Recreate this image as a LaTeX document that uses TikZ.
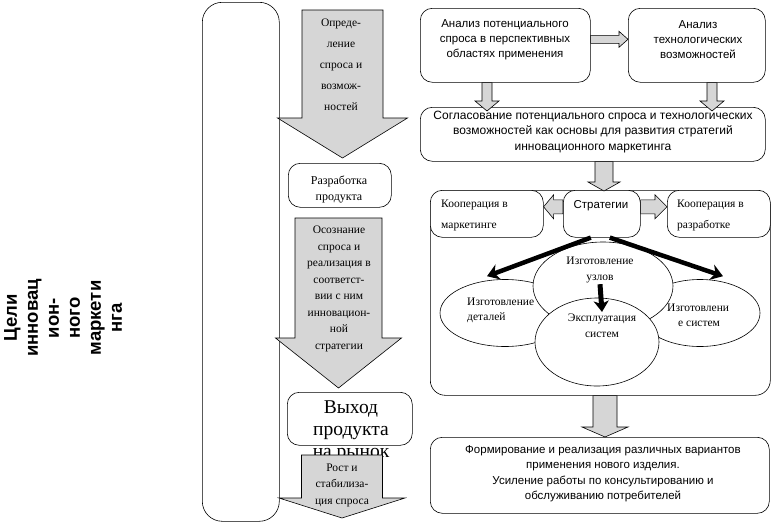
\documentclass[tikz,border=0pt]{standalone}
\usepackage{fontspec}
\setmainfont{Liberation Serif}
\newfontfamily\arialf{Liberation Sans}
\usetikzlibrary{arrows.meta,shapes.geometric,calc}
\definecolor{arrgray}{RGB}{214,214,214}
\newcommand\myfs[2]{\fontsize{#1}{#2}\selectfont}
% block arrow: [style]{start}{end}{body half}{head half}{head length}
\newcommand\blkarrow[6][blk]{%
  \path ($(#3)!#6!(#2)$) coordinate (bh);
  \draw[#1] ($(#2)!#4!90:(#3)$) -- ($(bh)!#4!90:(#3)$) -- ($(bh)!#5!90:(#3)$) -- (#3)
    -- ($(bh)!#5!-90:(#3)$) -- ($(bh)!#4!-90:(#3)$) -- ($(#2)!#4!-90:(#3)$) -- cycle;}
\begin{document}
\begin{tikzpicture}[x=1pt,y=-1pt,
  rbox/.style={draw,rounded corners=12pt,fill=white,line width=0.6pt,anchor=north west,inner sep=0pt},
  blk/.style={draw,fill=arrgray,line width=0.6pt,line join=miter},
  ell/.style={draw,ellipse,fill=white,line width=0.6pt,inner sep=0pt},
  thk/.style={line width=4.5pt,-{Stealth[length=12pt,width=16pt,inset=4pt]}},
  sans/.style={font=\arialf\myfs{11.5}{15}},
  sansb/.style={font=\arialf\myfs{12}{15.5}},
  serif/.style={font=\myfs{11.5}{16.5}},
  txt/.style={inner sep=0pt,align=center}]
\useasboundingbox (0,0) rectangle (772,523);

% left column
\node[txt,rotate=90,font=\arialf\bfseries\myfs{18.5}{21}] (goaltxt) at (63,318) {Цели\\инновац\\ион-\\ного\\маркети\\нга};
\node[rbox,rounded corners=20pt,minimum width=77,minimum height=519] (goal) at (202,2) {};

% process column
\coordinate (p1s) at (342.5,10);
\coordinate (p1e) at (342.5,158);
\blkarrow{p1s}{p1e}{40.5pt}{65pt}{40pt}
\node[txt,serif,font=\myfs{11.5}{21}] (p1t) at (341,65) {Опреде-\\ление\\спроса и\\возмож-\\ностей};

\node[rbox,minimum width=103,minimum height=44] (dev) at (288,163) {};
\node[txt,font=\myfs{12}{16}] (devt) at (339,189) {Разработка\\продукта};

\coordinate (p2s) at (338.5,218);
\coordinate (p2e) at (338.5,388);
\blkarrow{p2s}{p2e}{43.5pt}{63pt}{50pt}
\node[txt,serif] (p2t) at (339,289) {Осознание\\спроса и\\реализация в\\соответст-\\вии с ним\\инновацион-\\ной\\стратегии};

\node[rbox,minimum width=125,minimum height=53] (exit) at (287,392) {};
\node[txt,font=\myfs{19.5}{22}] (exitt) at (351,431) {Выход\\продукта\\на рынок};

\coordinate (p3s) at (342,455);
\coordinate (p3e) at (342,518);
\blkarrow{p3s}{p3e}{40.5pt}{63pt}{20pt}
\node[txt,font=\myfs{11.5}{16.5}] (p3t) at (342,485) {Рост и\\стабилиза-\\ция спроса};

% right part: top boxes
\node[rbox,minimum width=170,minimum height=74] (A) at (420,8) {};
\node[txt,sans] (At) at (505,40) {Анализ потенциального\\спроса в перспективных\\областях применения};
\node[rbox,minimum width=137,minimum height=74] (B) at (628,8) {};
\node[txt,sans] (Bt) at (698,40) {Анализ\\технологических\\возможностей};
\node[rbox,minimum width=345,minimum height=54] (C) at (420,107) {};
\node[txt,sansb] (Ct) at (593,132) {Согласование потенциального спроса и технологических\\возможностей как основы для развития стратегий\\инновационного маркетинга};

\coordinate (abs) at ($(A.east)+(0,-6)$);
\coordinate (abe) at ($(B.west)+(0,-6)$);
\blkarrow{abs}{abe}{4pt}{8pt}{9pt}
\coordinate (acs) at ($(A.south west)+(67,0)$);
\coordinate (ace) at ($(C.north west)+(67,4)$);
\blkarrow{acs}{ace}{5pt}{12pt}{10pt}
\coordinate (bcs) at ($(B.south west)+(84,0)$);
\coordinate (bce) at ($(C.north west)+(292,4)$);
\blkarrow{bcs}{bce}{5pt}{12pt}{10pt}

% container
\node[rbox,rounded corners=15pt,minimum width=340,minimum height=205] (cont) at (430,190) {};
\node[rbox,minimum width=113,minimum height=47] (mk) at (430,190) {};
\node[txt,anchor=west,align=left,font=\myfs{11.5}{21}] (mkt) at (441,215.5) {Кооперация в\\маркетинге};
\node[rbox,minimum width=103,minimum height=47] (dv) at (667,190) {};
\node[txt,anchor=west,align=left,font=\myfs{11.5}{21}] (dvt) at (677,215.5) {Кооперация в\\разработке};
\node[rbox,minimum width=77,minimum height=47] (S) at (563,190) {};
\node[txt,font=\arialf\myfs{11.5}{15}] (St) at (601,206) {Стратегии};

\coordinate (cs) at ($(C.south west)+(184,0)$);
\coordinate (ce) at ($(S.north west)+(41,1)$);
\blkarrow{cs}{ce}{9pt}{16pt}{9pt}
\coordinate (sms) at ($(S.west)+(0,-7)$);
\coordinate (sme) at ($(mk.east)+(0,-7)$);
\blkarrow{sms}{sme}{7pt}{12pt}{10pt}
\coordinate (sds) at ($(S.east)+(0,-7)$);
\coordinate (sde) at ($(dv.west)+(0,-7)$);
\blkarrow{sds}{sde}{7pt}{12pt}{12pt}

% ellipses
\node[ell,minimum width=130,minimum height=67] (eL) at (505,313) {};
\node[ell,minimum width=120,minimum height=67] (eR) at (700,313) {};
\node[ell,minimum width=140,minimum height=88] (eT) at (603,286) {};
\node[ell,minimum width=124,minimum height=88] (eB) at (597,342) {};
\node[txt,anchor=west,align=left,font=\myfs{11.5}{15.5}] (eLt) at (467,310.5) {Изготовление\\деталей};
\node[txt,font=\myfs{11.5}{16}] (eTt) at (600,270) {Изготовление\\узлов};
\node[txt,font=\myfs{11.5}{16}] (eBt) at (602,326) {Эксплуатация\\систем};
\node[txt,anchor=west,align=left,font=\myfs{11.5}{15.5}] (eRt1) at (667,308) {Изготовлени};
\node[txt,anchor=west,align=left,font=\myfs{11.5}{15.5}] (eRt2) at (678,323.5) {е систем};

\draw[thk] ($(S.south)+(-11,0)$) -- ($(eL.north)+(-18,-3)$);
\draw[thk] ($(S.south)+(8,0)$) -- ($(eR.north)+(23,-3)$);
\draw[line width=5pt,-{Stealth[length=11pt,width=15pt,inset=3pt]}] ($(eTt.south)+(0,1)$) -- ($(eBt.north)+(0,-2)$);

% bottom
\node[rbox,minimum width=339,minimum height=76] (F) at (430,437) {};
\node[txt,font=\arialf\myfs{11.5}{15.5}] (Ft) at (603,473.5) {Формирование и реализация различных вариантов\\применения нового изделия.\\Усиление работы по консультированию и\\обслуживанию потребителей};
\coordinate (fs) at ($(cont.south west)+(175,0)$);
\coordinate (fe) at ($(F.north west)+(175,0)$);
\blkarrow{fs}{fe}{12pt}{23pt}{10pt}
\end{tikzpicture}
\end{document}
